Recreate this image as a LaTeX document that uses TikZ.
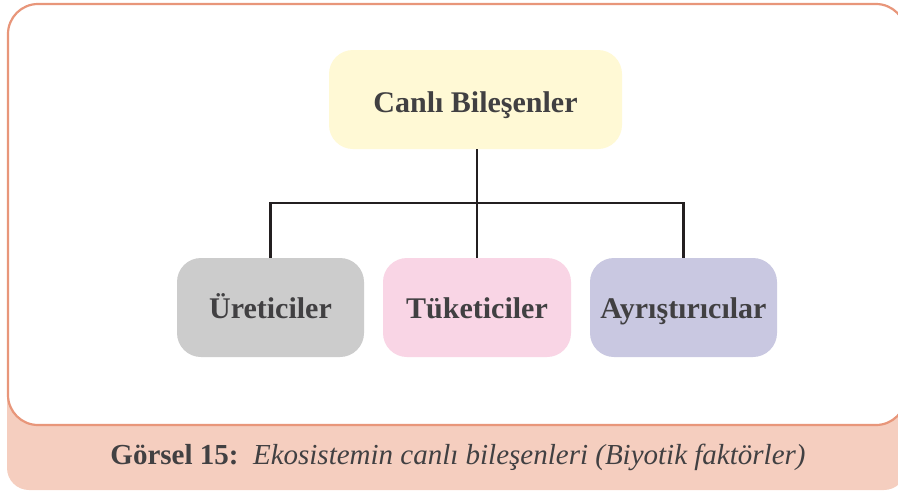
\documentclass[tikz,border=0pt]{standalone}
\usepackage{fontspec}
\setmainfont{Liberation Serif}
\definecolor{frameline}{HTML}{E8967A}
\definecolor{bandfill}{HTML}{F5CEBF}
\definecolor{rootfill}{HTML}{FFF9D5}
\definecolor{prodfill}{HTML}{CCCCCC}
\definecolor{consfill}{HTML}{F9D5E5}
\definecolor{decofill}{HTML}{C9C8E1}
\definecolor{txt}{HTML}{414042}
\definecolor{wire}{HTML}{231F20}
\tikzset{
  box/.style={rounded corners=24pt, inner sep=0pt, text=txt,
    text height=22pt, text depth=0pt,
    font=\fontsize{30}{36}\selectfont\bfseries},
  wirestyle/.style={draw=wire, line width=2.6pt},
}
\begin{document}
\begin{tikzpicture}[x=1pt,y=-1pt]
\useasboundingbox (0,0) rectangle (898,491);
\clip (0,0) rectangle (898,491);
% caption band behind the frame
\fill[bandfill, rounded corners=22pt] (7,300) rectangle (906,490);
% white frame
\draw[frameline, fill=white, line width=2.2pt, rounded corners=30pt] (8,4) rectangle (906,425);
% caption
\node[text=txt, font=\fontsize{29}{34}\selectfont, anchor=base] (cap) at (458,464)
  {\textbf{Görsel 15:}\ \ \textit{Ekosistemin canlı bileşenleri (Biyotik faktörler)}};
% nodes
\node[box, fill=rootfill, minimum width=293pt, minimum height=99pt, text height=25pt] (root) at (475.5,99.5) {Canlı Bileşenler};
\node[box, fill=prodfill, minimum width=187pt, minimum height=99pt] (prod) at (270.5,307.5) {Üreticiler};
\node[box, fill=consfill, minimum width=188pt, minimum height=99pt] (cons) at (477,307.5) {Tüketiciler};
\node[box, fill=decofill, minimum width=187pt, minimum height=99pt] (deco) at (683.5,307.5) {Ayrıştırıcılar};
% connectors
\coordinate (hub) at (477,203);
\draw[wirestyle] (root.south -| hub) -- (hub);
\draw[wirestyle] (prod.north) |- (hub) -| (deco.north);
\draw[wirestyle] (hub) -- (cons.north);
\end{tikzpicture}
\end{document}
